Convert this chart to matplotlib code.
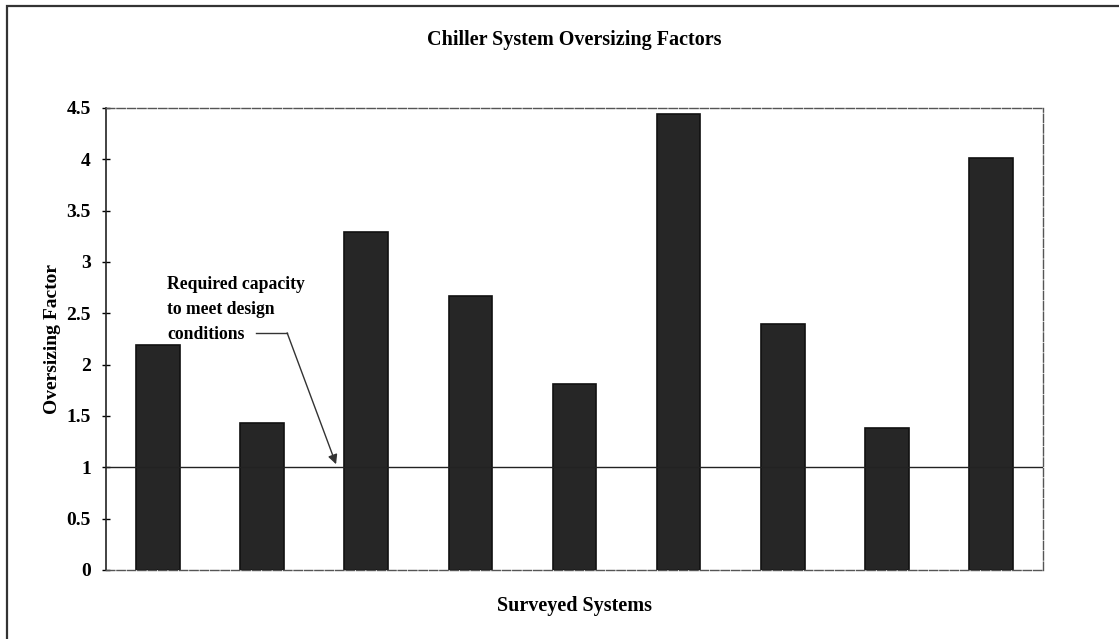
import matplotlib.pyplot as plt
from matplotlib.patches import Rectangle

# oversizing factor for each surveyed chiller system
systems = ["S1", "S2", "S3", "S4", "S5", "S6", "S7", "S8", "S9"]
oversizing = [2.19, 1.43, 3.29, 2.67, 1.81, 4.44, 2.40, 1.38, 4.01]
required_capacity = 1.0
y_ticks = [0, 0.5, 1, 1.5, 2, 2.5, 3, 3.5, 4, 4.5]

plt.rcParams['font.family'] = ['Liberation Serif', 'DejaVu Serif']

fig = plt.figure(figsize=(11.19, 6.39), dpi=100)
ax = fig.add_axes([0.0947, 0.108, 0.8374, 0.723])

# outer chart frame
fig.patches.append(Rectangle((0.0063, -0.01), 1.1, 1.0006, transform=fig.transFigure,
                             fill=False, edgecolor='#333333', linewidth=1.6))

x = range(len(systems))
ax.bar(x, oversizing, width=0.42, color='#262626', edgecolor='#111111', linewidth=1.2, zorder=2)
ax.axhline(required_capacity, color='#222222', linewidth=1.0, zorder=3)

ax.set_xlim(-0.5, len(systems) - 0.5)
ax.set_ylim(0, 4.5)
ax.set_yticks(y_ticks)
ax.set_yticklabels([f"{t:g}" for t in y_ticks], fontsize=14, fontweight='bold')
ax.set_xticks([])
ax.tick_params(axis='y', direction='inout', length=6, width=1, pad=8)

ax.spines['left'].set_color('#222222')
ax.spines['left'].set_linewidth(1.2)
for side in ['top', 'right', 'bottom']:
    ax.spines[side].set_color('#555555')
    ax.spines[side].set_linewidth(1.0)
    ax.spines[side].set_linestyle((0, (6, 1.5)))

ax.set_title("Chiller System Oversizing Factors", fontsize=14.5, fontweight='bold', pad=45)
ax.set_ylabel("Oversizing Factor", fontsize=14, fontweight='bold', labelpad=4)
ax.set_xlabel("Surveyed Systems", fontsize=14.5, fontweight='bold', labelpad=19)

# callout for the required capacity line
ax.text(0.09, 2.21, "Required capacity\nto meet design\nconditions", fontsize=12.7,
        fontweight='bold', ha='left', va='bottom', linespacing=1.6, zorder=4)
ax.plot([0.94, 1.24], [2.31, 2.31], color='#333333', linewidth=1.0, zorder=4)
ax.annotate("", xy=(1.71, required_capacity + 0.03), xytext=(1.24, 2.31),
            arrowprops=dict(arrowstyle='-|>', color='#333333', lw=1.0,
                            mutation_scale=14, shrinkA=0, shrinkB=0), zorder=4)

fig.savefig("out.png", dpi=100)
